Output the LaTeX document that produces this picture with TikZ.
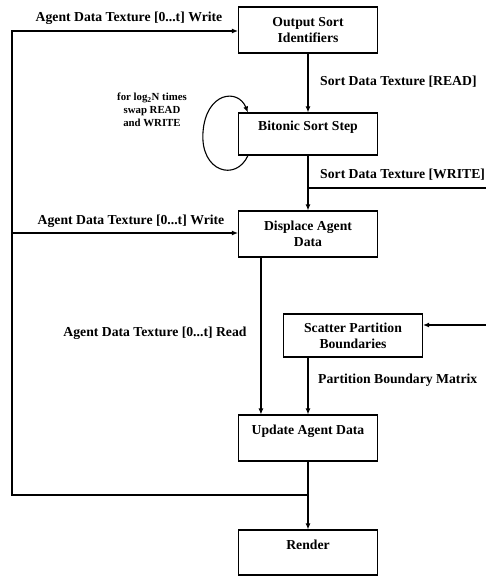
\documentclass[tikz,border=0pt]{standalone}
\usepackage{fontspec}
\setmainfont{Liberation Serif}
\usetikzlibrary{arrows.meta}
\begin{document}
\begin{tikzpicture}[x=1pt,y=-1pt,
  box/.style={draw,line width=1.1pt,minimum width=139pt,minimum height=46pt,inner sep=0pt,align=center,font=\fontsize{13.7}{16}\selectfont\bfseries},
  lbl/.style={font=\fontsize{13.7}{16}\selectfont\bfseries,inner sep=0pt},
  conn/.style={line width=1.1pt},
  arr/.style={conn,-{Latex[length=6pt,width=5pt]}}]
\useasboundingbox (0,0) rectangle (486,577);
% boxes
\node[box] (out) at (308,30) {Output Sort\\Identifiers};
\node[box,minimum height=42pt] (bit) at (308,134) {Bitonic Sort Step\\\mbox{}};
\node[box] (disp) at (308,234) {Displace Agent\\Data};
\node[box,minimum height=43pt] (scat) at (353,335.5) {Scatter Partition\\Boundaries};
\node[box] (upd) at (308,438) {Update Agent Data\\\mbox{}};
\node[box,minimum height=45pt] (rend) at (308,552.5) {Render\\\mbox{}};
% free ends
\coordinate (tl) at (12,31);
\coordinate (ml) at (12,233);
\coordinate (bl) at (12,495);
\coordinate (jn) at (308,495);
\coordinate (wr) at (486,188);
\coordinate (rin) at (486,325);
% connectors
\draw[conn] (upd.south) -- (jn);
\draw[arr] (jn) -- (rend.north);
\draw[arr] (jn) -- (bl) -- (tl) -- (tl -| out.west);
\draw[arr] (ml) -- (ml -| disp.west);
\draw[arr] (out.south) -- (bit.north);
\draw[arr] (bit.south) -- (disp.north);
\draw[conn] (bit.south |- wr) -- (wr);
\draw[arr] (rin) -- (rin -| scat.east);
\draw[arr] (scat.south -| upd.north) -- (upd.north);
\draw[arr] ([xshift=23pt]disp.south west) -- ([xshift=23pt]disp.south west |- upd.north);
\draw[arr] ([xshift=10pt]bit.south west) .. controls (236,182) and (200,172) .. (203,132)
  .. controls (206,92) and (238,88) .. ([xshift=10pt]bit.north west);
% labels
\node[lbl] (l1) at (129,18) {Agent Data Texture [0...t] Write};
\node[lbl] (l2) at (131,221) {Agent Data Texture [0...t] Write};
\node[lbl] (l3) at (155,333) {Agent Data Texture [0...t] Read};
\node[lbl,anchor=west] (l4) at (320,82) {Sort Data Texture [READ]};
\node[lbl,anchor=west] (l5) at (320,175) {Sort Data Texture [WRITE]};
\node[lbl,anchor=west] (l6) at (318,380) {Partition Boundary Matrix};
\node[font=\fontsize{10.8}{13}\selectfont\bfseries,align=center,inner sep=0pt] (l7) at (152,110) {for log\textsubscript{2}N times\\swap READ\\and WRITE};
\end{tikzpicture}
\end{document}
